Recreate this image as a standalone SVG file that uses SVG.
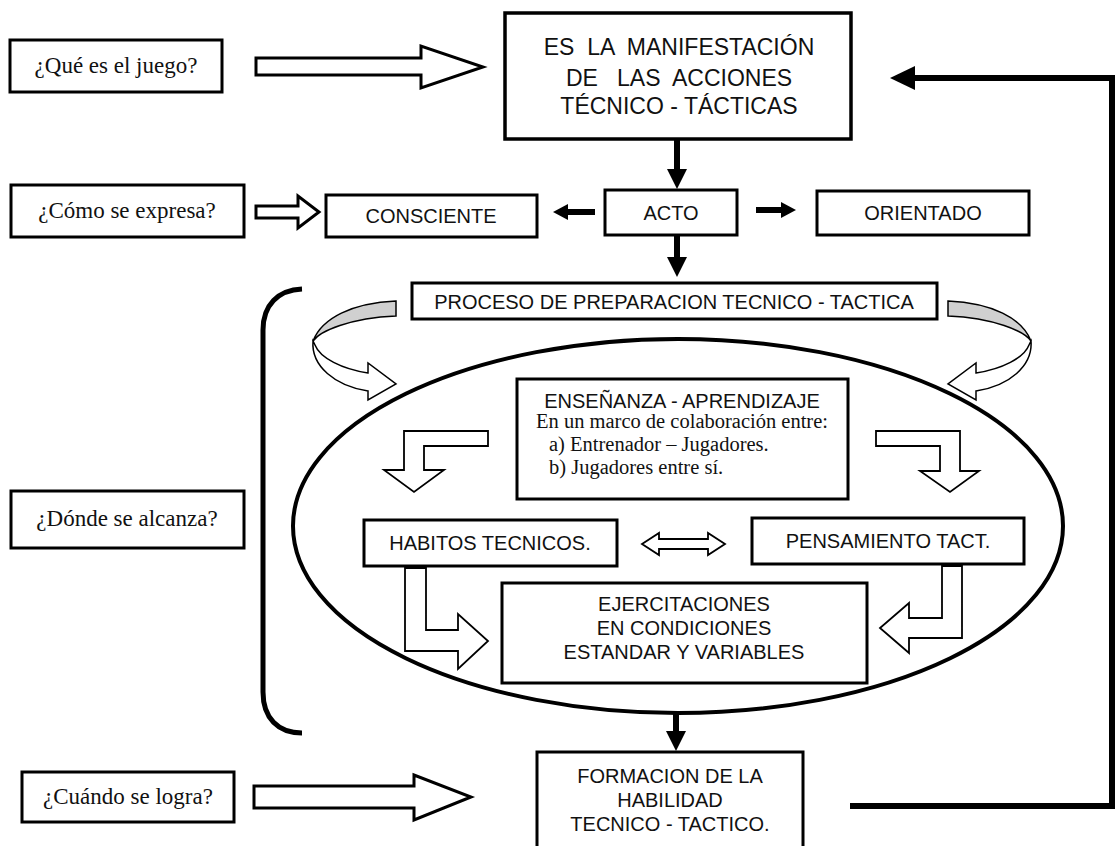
<svg xmlns="http://www.w3.org/2000/svg" width="1115" height="846" viewBox="0 0 1115 846">
  <style>
    .box { fill: #fff; stroke: #000; stroke-width: 3; }
    .sans { font-family: "Liberation Sans", Arial, sans-serif; font-size: 20px; fill: #111; text-anchor: middle; }
    .serif { font-family: "Liberation Serif", "Times New Roman", serif; font-size: 23px; fill: #111; text-anchor: middle; }
    .serif-sm { font-family: "Liberation Serif", "Times New Roman", serif; font-size: 20.5px; fill: #111; }
    .hollow { fill: #fff; stroke: #000; stroke-width: 3; stroke-linejoin: miter; }
    .hollow-thin { fill: #fff; stroke: #000; stroke-width: 1.8; stroke-linejoin: miter; }
    .solid { fill: #000; stroke: none; }
    .line { fill: none; stroke: #000; stroke-width: 6; }
  </style>

  <!-- Questions on the left -->
  <g id="q-que">
    <rect class="box" x="10" y="40" width="212" height="52"/>
    <text class="serif" x="116" y="73">¿Qué es el juego?</text>
  </g>
  <g id="q-como">
    <rect class="box" x="11" y="185" width="233" height="52"/>
    <text class="serif" x="127" y="218">¿Cómo se expresa?</text>
  </g>
  <g id="q-donde">
    <rect class="box" x="11" y="491" width="233" height="57"/>
    <text class="serif" x="127" y="526">¿Dónde se alcanza?</text>
  </g>
  <g id="q-cuando">
    <rect class="box" x="22" y="772" width="212" height="50"/>
    <text class="serif" x="128" y="804">¿Cuándo se logra?</text>
  </g>

  <!-- Main chain -->
  <g id="n-manifestacion">
    <rect class="box" x="505" y="13" width="346" height="126" style="stroke-width:3.5"/>
    <text class="sans" x="679" y="55" style="font-size:23px" xml:space="preserve">ES  LA  MANIFESTACIÓN</text>
    <text class="sans" x="679" y="86" style="font-size:23px" xml:space="preserve">DE   LAS  ACCIONES</text>
    <text class="sans" x="679" y="114" style="font-size:23px">TÉCNICO - TÁCTICAS</text>
  </g>
  <g id="n-consciente">
    <rect class="box" x="326" y="195" width="211" height="42"/>
    <text class="sans" x="431" y="223">CONSCIENTE</text>
  </g>
  <g id="n-acto">
    <rect class="box" x="605" y="190" width="132" height="45"/>
    <text class="sans" x="671" y="220">ACTO</text>
  </g>
  <g id="n-orientado">
    <rect class="box" x="817" y="191" width="212" height="44"/>
    <text class="sans" x="923" y="220">ORIENTADO</text>
  </g>
  <g id="n-proceso">
    <rect class="box" x="412" y="283" width="525" height="36"/>
    <text class="sans" x="674" y="309">PROCESO DE PREPARACION TECNICO - TACTICA</text>
  </g>

  <!-- Inner cycle enclosed by the oval -->
  <g id="n-ciclo">
    <ellipse cx="678" cy="526" rx="385" ry="187" fill="none" stroke="#000" stroke-width="4"/>
  </g>
  <g id="n-ensenanza">
    <rect class="box" x="517" y="379" width="331" height="120"/>
    <text class="sans" x="682" y="408">ENSEÑANZA - APRENDIZAJE</text>
    <text class="serif-sm" x="536" y="428">En un marco de colaboración entre:</text>
    <text class="serif-sm" x="549" y="451">a) Entrenador – Jugadores.</text>
    <text class="serif-sm" x="549" y="474">b) Jugadores entre sí.</text>
  </g>
  <g id="n-habitos">
    <rect class="box" x="364" y="520" width="253" height="46"/>
    <text class="sans" x="490" y="550">HABITOS TECNICOS.</text>
  </g>
  <g id="n-pensamiento">
    <rect class="box" x="752" y="518" width="272" height="46"/>
    <text class="sans" x="888" y="548">PENSAMIENTO TACT.</text>
  </g>
  <g id="n-ejercitaciones">
    <rect class="box" x="502" y="583" width="365" height="100"/>
    <text class="sans" x="684" y="611">EJERCITACIONES</text>
    <text class="sans" x="684" y="635">EN CONDICIONES</text>
    <text class="sans" x="684" y="659">ESTANDAR Y VARIABLES</text>
  </g>
  <g id="n-formacion">
    <rect class="box" x="537" y="752" width="266" height="110"/>
    <text class="sans" x="670" y="783">FORMACION DE LA</text>
    <text class="sans" x="670" y="807">HABILIDAD</text>
    <text class="sans" x="670" y="831">TECNICO - TACTICO.</text>
  </g>

  <!-- Bracket grouping the inner cycle -->
  <g id="n-llave">
    <path d="M 302 289 C 278 290 263 305 263 330 L 263 692 C 263 718 278 733 302 733" fill="none" stroke="#000" stroke-width="5"/>
  </g>

  <!-- Connectors -->
  <g id="connectors">
    <!-- hollow arrows from the questions -->
    <polygon class="hollow" points="256,58 421,58 421,46 483,67 421,88 421,75 256,75"/>
    <polygon class="hollow" points="256,206 298,206 298,196 319,212 298,228 298,218 256,218"/>
    <polygon class="hollow" points="254,786 414,786 414,775 471,797 414,820 414,808 254,808"/>

    <!-- solid arrows of the main chain -->
    <rect class="solid" x="674" y="139" width="6" height="32"/>
    <polygon class="solid" points="667,169 687,169 677,189"/>
    <rect class="solid" x="566" y="209" width="29" height="6"/>
    <polygon class="solid" points="568,204 553,212 568,220"/>
    <rect class="solid" x="756" y="207" width="26" height="6"/>
    <polygon class="solid" points="781,202 796,210 781,218"/>
    <rect class="solid" x="674" y="235" width="6" height="24"/>
    <polygon class="solid" points="667,257 687,257 677,277"/>
    <rect class="solid" x="673" y="712" width="6" height="22"/>
    <polygon class="solid" points="666,731 686,731 676,751"/>

    <!-- feedback loop back to the top -->
    <path class="line" d="M 850 806 H 1112 V 78 H 912"/>
    <polygon class="solid" points="915,66 890,78 915,90"/>

    <!-- curved arrows from the process bar into the oval -->
    <g id="curva-izq">
      <path d="M 396 301 C 352 303 322 318 313 341 C 320 331 350 318 396 316 Z" fill="#d0d0d0" stroke="#000" stroke-width="1.5"/>
      <path d="M 313 341 C 311 366 335 386 368 391 L 368 400 L 396 384 L 368 363 L 368 373 C 342 369 320 358 315 345 Z" fill="#fff" stroke="#000" stroke-width="1.5"/>
    </g>
    <g id="curva-der" transform="translate(1344,0) scale(-1,1)">
      <path d="M 396 301 C 352 303 322 318 313 341 C 320 331 350 318 396 316 Z" fill="#d0d0d0" stroke="#000" stroke-width="1.5"/>
      <path d="M 313 341 C 311 366 335 386 368 391 L 368 400 L 396 384 L 368 363 L 368 373 C 342 369 320 358 315 345 Z" fill="#fff" stroke="#000" stroke-width="1.5"/>
    </g>

    <!-- bent arrows inside the oval -->
    <polygon class="hollow-thin" points="404,431 488,431 488,446 424,446 424,470 444,470 414,492 384,470 404,470"/>
    <polygon class="hollow-thin" points="876,431 960,431 960,471 979,471 950,492 920,471 940,471 940,446 876,446"/>
    <polygon class="hollow-thin" points="642,544 659,533 659,539 708,539 708,533 725,544 708,555 708,549 659,549 659,555"/>
    <polygon class="hollow-thin" points="405,568 426,568 426,630 458,630 458,614 488,641 458,669 458,651 405,651"/>
    <polygon class="hollow-thin" points="942,566 962,566 962,638 909,638 909,653 880,628 909,603 909,618 942,618"/>
  </g>
</svg>
